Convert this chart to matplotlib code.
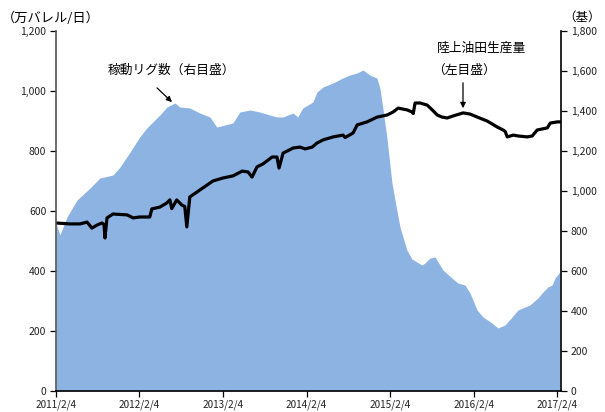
import matplotlib
matplotlib.use("Agg")
import matplotlib.pyplot as plt
from matplotlib.ticker import FuncFormatter, MultipleLocator
import pandas as pd

plt.rcParams['font.family'] = ['Noto Sans CJK JP', 'DejaVu Sans']

# 陸上油田生産量（万バレル/日, 左目盛）
prod_dates = ["2011-02-04", "2011-04-06", "2011-05-20", "2011-06-20", "2011-07-11", "2011-08-02",
              "2011-08-24", "2011-09-02", "2011-09-06", "2011-09-15", "2011-10-11", "2011-12-12",
              "2012-01-07", "2012-02-05", "2012-03-20", "2012-03-29", "2012-05-03", "2012-06-03",
              "2012-06-16", "2012-06-24", "2012-07-16", "2012-08-07", "2012-08-20", "2012-08-29",
              "2012-09-11", "2012-10-12", "2012-10-25", "2012-12-21", "2013-02-03", "2013-03-19",
              "2013-04-28", "2013-05-24", "2013-06-10", "2013-07-02", "2013-07-28", "2013-09-06",
              "2013-09-27", "2013-10-06", "2013-10-24", "2013-12-07", "2014-01-06", "2014-01-28",
              "2014-02-28", "2014-03-22", "2014-04-17", "2014-05-31", "2014-07-13", "2014-07-22",
              "2014-08-26", "2014-09-13", "2014-10-26", "2014-12-09", "2015-01-22", "2015-02-17",
              "2015-03-11", "2015-04-19", "2015-05-11", "2015-05-16", "2015-05-24", "2015-06-15",
              "2015-07-16", "2015-08-07", "2015-08-29", "2015-09-19", "2015-10-11", "2015-11-07",
              "2015-12-20", "2016-01-20", "2016-02-20", "2016-04-03", "2016-05-17", "2016-06-12",
              "2016-06-21", "2016-06-30", "2016-07-26", "2016-08-17", "2016-09-25", "2016-10-17",
              "2016-11-08", "2016-12-22", "2017-01-04", "2017-02-03", "2017-02-16"]
prod_values = [560, 557, 557, 563, 543, 553,
               560, 555, 510, 577, 590, 587,
               577, 580, 580, 607, 613, 627,
               637, 608, 637, 620, 615, 547,
               647, 663, 670, 700, 710, 717,
               733, 730, 713, 747, 757, 780,
               780, 743, 793, 810, 813, 807,
               813, 827, 837, 847, 853, 845,
               860, 887, 897, 913, 920, 930,
               943, 937, 930, 925, 960, 960,
               953, 937, 920, 913, 910, 917,
               927, 923, 913, 900, 880, 870,
               865, 847, 853, 850, 847, 850,
               870, 877, 893, 897, 897]

# 稼動リグ数（基, 右目盛）
rig_dates = ["2011-02-04", "2011-02-21", "2011-03-24", "2011-05-07", "2011-07-03", "2011-08-15",
             "2011-10-11", "2011-11-11", "2011-12-25", "2012-02-05", "2012-03-07", "2012-05-03",
             "2012-06-03", "2012-07-08", "2012-07-29", "2012-09-11", "2012-10-25", "2012-12-08",
             "2013-01-07", "2013-02-11", "2013-03-18", "2013-04-18", "2013-06-01", "2013-07-14",
             "2013-08-27", "2013-09-27", "2013-10-23", "2013-12-06", "2013-12-27", "2014-01-18",
             "2014-03-03", "2014-03-21", "2014-04-16", "2014-05-30", "2014-07-12", "2014-08-12",
             "2014-09-12", "2014-10-08", "2014-11-07", "2014-12-08", "2014-12-21", "2015-01-03",
             "2015-01-21", "2015-02-12", "2015-02-25", "2015-03-19", "2015-04-18", "2015-05-10",
             "2015-06-23", "2015-07-06", "2015-07-28", "2015-08-19", "2015-09-23", "2015-11-01",
             "2015-11-27", "2015-12-28", "2016-01-19", "2016-02-19", "2016-03-16", "2016-04-24",
             "2016-05-20", "2016-06-20", "2016-07-21", "2016-08-16", "2016-10-07", "2016-11-11",
             "2016-12-03", "2016-12-25", "2017-01-12", "2017-01-25", "2017-02-15"]
rig_values = [840, 780, 870, 955, 1015, 1065,
              1080, 1120, 1195, 1270, 1315, 1380,
              1420, 1440, 1420, 1415, 1390, 1370,
              1320, 1330, 1340, 1395, 1405, 1395,
              1380, 1370, 1370, 1390, 1370, 1415,
              1445, 1495, 1520, 1540, 1565, 1580,
              1590, 1605, 1580, 1565, 1515, 1415,
              1265, 1040, 955, 820, 705, 660,
              630, 640, 665, 670, 605, 565,
              540, 530, 490, 405, 370, 340,
              315, 330, 370, 405, 430, 465,
              495, 520, 530, 565, 595]

xtick_dates = ["2011-02-04", "2012-02-04", "2013-02-04", "2014-02-04",
               "2015-02-04", "2016-02-04", "2017-02-04"]
xtick_labels = ["2011/2/4", "2012/2/4", "2013/2/4", "2014/2/4",
                "2015/2/4", "2016/2/4", "2017/2/4"]

W, H = 605, 412
fig = plt.figure(figsize=(W / 100, H / 100), dpi=100)
ax = fig.add_axes([56 / W, (H - 391) / H, (561 - 56) / W, (391 - 31) / H])
ax2 = ax.twinx()
ax2.set_zorder(ax.get_zorder() - 1)
ax.patch.set_visible(False)

pd_dates = pd.to_datetime(prod_dates)
rd_dates = pd.to_datetime(rig_dates)

ax2.fill_between(rd_dates, 0, rig_values, color="#8DB3E2", linewidth=0)
ax.plot(pd_dates, prod_values, color="black", linewidth=2.3, solid_joinstyle="round")

ax.set_xlim(pd.Timestamp("2011-02-04"), pd.Timestamp("2017-02-20"))
ax.set_ylim(0, 1200)
ax2.set_ylim(0, 1800)
ax.yaxis.set_major_locator(MultipleLocator(200))
ax2.yaxis.set_major_locator(MultipleLocator(200))
fmt = FuncFormatter(lambda v, p: f"{int(v):,}")
ax.yaxis.set_major_formatter(fmt)
ax2.yaxis.set_major_formatter(fmt)
ax.set_xticks(pd.to_datetime(xtick_dates))
ax.set_xticklabels(xtick_labels)

for a in (ax, ax2):
    a.spines["top"].set_visible(False)
    a.tick_params(axis="both", labelsize=7.5, length=4, width=0.9, color="black",
                  labelcolor="#222222", pad=3)
ax.spines["left"].set_color("#555555")
ax.spines["left"].set_linewidth(1.2)
ax.spines["bottom"].set_color("black")
ax.spines["bottom"].set_linewidth(1.2)
ax.spines["right"].set_visible(False)
ax2.spines["left"].set_visible(False)
ax2.spines["bottom"].set_visible(False)
ax2.spines["right"].set_color("black")
ax2.spines["right"].set_linewidth(1.2)
ax.tick_params(axis="x", pad=2, labelsize=7.2)

def fy(y):
    return H - y

fig.text(2 / W, fy(18) / H, "（万バレル/日）", fontsize=9.5, va="center", ha="left")
fig.text(601 / W, fy(17) / H, "（基）", fontsize=9, va="center", ha="right")
fig.text(171 / W, fy(70) / H, "稼動リグ数（右目盛）", fontsize=9.2, va="center", ha="center")
fig.text(437 / W, fy(48) / H, "陸上油田生産量", fontsize=9.2, va="center", ha="left")
fig.text(432 / W, fy(70) / H, "（左目盛）", fontsize=9.2, va="center", ha="left")

ax.annotate("", xy=(174, fy(104)), xycoords="figure pixels",
            xytext=(155, fy(86)), textcoords="figure pixels",
            arrowprops=dict(arrowstyle="-|>", color="black", lw=0.9, mutation_scale=8))
ax.annotate("", xy=(463, fy(111)), xycoords="figure pixels",
            xytext=(463, fy(80)), textcoords="figure pixels",
            arrowprops=dict(arrowstyle="-|>", color="black", lw=0.9, mutation_scale=8))

fig.savefig("out.png", dpi=100)
